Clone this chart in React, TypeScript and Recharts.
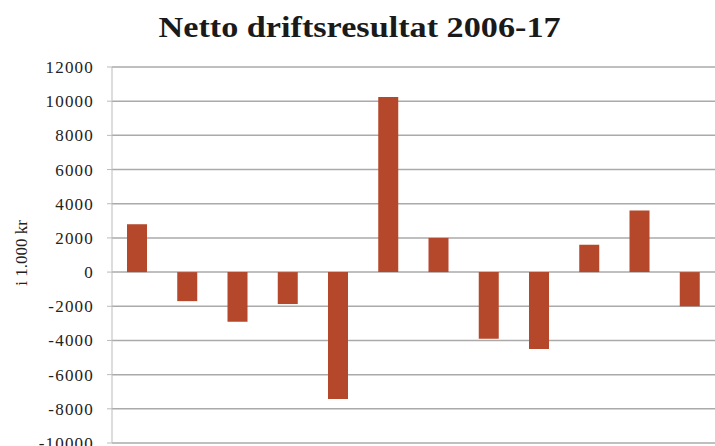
import React from 'react';
import { BarChart, Bar, XAxis, YAxis, CartesianGrid } from 'recharts';

const years = ['2006', '2007', '2008', '2009', '2010', '2011', '2012', '2013', '2014', '2015', '2016', '2017'];
const values = [2800, -1700, -2900, -1870, -7430, 10250, 2000, -3900, -4500, 1600, 3600, -2000];
const yTicks = [-10000, -8000, -6000, -4000, -2000, 0, 2000, 4000, 6000, 8000, 10000, 12000];

const data = years.map((y, i) => ({ year: y, value: values[i] }));

const serif = '"Liberation Serif", "Times New Roman", serif';

const AxisTitle = () => (
  <text
    x={0}
    y={0}
    transform="translate(21, 253) rotate(-90)"
    textAnchor="middle"
    dominantBaseline="central"
    fontFamily={serif}
    fontSize={17}
    fill="#222"
  >
    i 1.000 kr
  </text>
);

export default function App() {
  return (
    <div style={{ position: 'absolute', left: 0, top: 0, width: 715, height: 446, background: '#fff', overflow: 'hidden' }}>
      <div
        style={{
          position: 'absolute',
          left: 0,
          top: 10,
          width: 715,
          textAlign: 'center',
          fontFamily: serif,
          fontWeight: 'bold',
          fontSize: 30,
          color: '#1a1a1a',
          transform: 'translateX(2px) scaleX(1.14)',
          transformOrigin: '357px 0',
        }}
      >
        Netto driftsresultat 2006-17
      </div>
      <BarChart
        width={715}
        height={446}
        data={data}
        margin={{ top: 67, right: 0, bottom: 3, left: 0 }}
      >
        <CartesianGrid vertical={false} stroke="#aaaaaa" strokeWidth={1.5} />
        <XAxis dataKey="year" hide />
        <YAxis
          width={112}
          domain={[-10000, 12000]}
          ticks={yTicks}
          interval={0}
          tickSize={5}
          tickMargin={13}
          axisLine={{ stroke: '#bbbbbb' }}
          tickLine={{ stroke: '#bbbbbb' }}
          tick={{ fontFamily: serif, fontSize: 17, fill: '#222', letterSpacing: 1.2 }}
        />
        <Bar dataKey="value" fill="#b5472b" barSize={20} isAnimationActive={false} />
      </BarChart>
      <svg width={715} height={446} style={{ position: 'absolute', left: 0, top: 0, pointerEvents: 'none' }}>
        <AxisTitle />
      </svg>
    </div>
  );
}
